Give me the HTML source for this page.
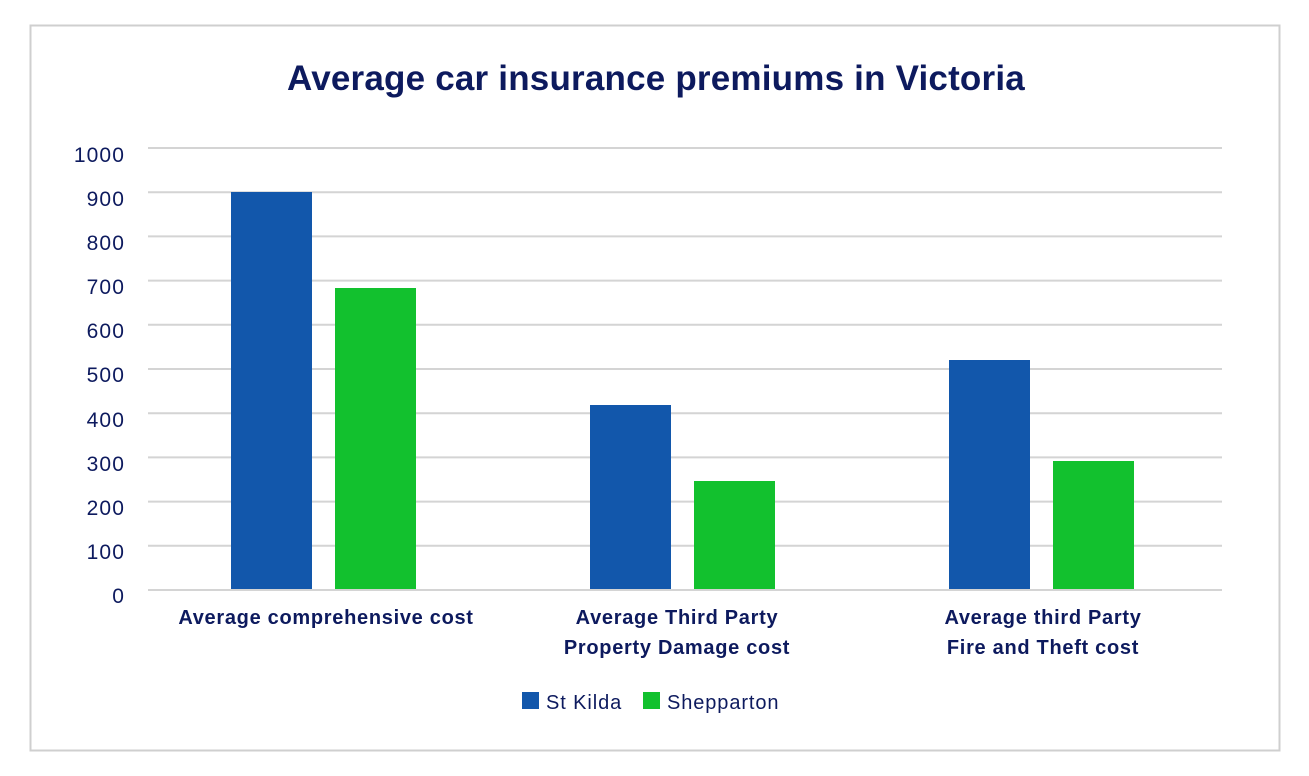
<!DOCTYPE html>
<html><head><style>
html,body{margin:0;padding:0;background:#fff;}
svg{display:block;font-family:"Liberation Sans",sans-serif;}
</style></head><body>
<svg width="1309" height="776" viewBox="0 0 1309 776">
<rect x="30.5" y="25.5" width="1249" height="725" fill="#fff" stroke="#cfcfcf" stroke-width="2"/>
<text x="656" y="90" text-anchor="middle" font-size="35" font-weight="bold" fill="#0d1a5e" letter-spacing="0.2">Average car insurance premiums in Victoria</text>
<g stroke="#d4d4d4" stroke-width="2">
<line x1="148" x2="1222" y1="148" y2="148"/>
<line x1="148" x2="1222" y1="192.2" y2="192.2"/>
<line x1="148" x2="1222" y1="236.4" y2="236.4"/>
<line x1="148" x2="1222" y1="280.6" y2="280.6"/>
<line x1="148" x2="1222" y1="324.8" y2="324.8"/>
<line x1="148" x2="1222" y1="369" y2="369"/>
<line x1="148" x2="1222" y1="413.2" y2="413.2"/>
<line x1="148" x2="1222" y1="457.4" y2="457.4"/>
<line x1="148" x2="1222" y1="501.6" y2="501.6"/>
<line x1="148" x2="1222" y1="545.8" y2="545.8"/>
<line x1="148" x2="1222" y1="590" y2="590"/>
</g>
<g font-size="21" fill="#0d1a5e" text-anchor="end" letter-spacing="1.1">
<text x="125" y="162">1000</text><text x="125" y="206">900</text><text x="125" y="250">800</text>
<text x="125" y="294">700</text><text x="125" y="338">600</text><text x="125" y="382">500</text>
<text x="125" y="427">400</text><text x="125" y="471">300</text><text x="125" y="515">200</text>
<text x="125" y="559">100</text><text x="125" y="603">0</text>
</g>
<g fill="#1257ab">
<rect x="231" y="192" width="81" height="397"/>
<rect x="590" y="405" width="81" height="184"/>
<rect x="949" y="360" width="81" height="229"/>
</g>
<g fill="#12c12e">
<rect x="335" y="288" width="81" height="301"/>
<rect x="694" y="481" width="81" height="108"/>
<rect x="1053" y="461" width="81" height="128"/>
</g>
<g font-size="20" font-weight="bold" fill="#0d1a5e" text-anchor="middle" letter-spacing="0.7">
<text x="326" y="624">Average comprehensive cost</text>
<text x="677" y="624">Average Third Party</text>
<text x="677" y="654">Property Damage cost</text>
<text x="1043" y="624">Average third Party</text>
<text x="1043" y="654">Fire and Theft cost</text>
</g>
<rect x="522" y="692" width="17" height="17" fill="#1257ab"/>
<text x="546" y="709" font-size="20" fill="#0d1a5e" letter-spacing="0.9">St Kilda</text>
<rect x="643" y="692" width="17" height="17" fill="#12c12e"/>
<text x="667" y="709" font-size="20" fill="#0d1a5e" letter-spacing="0.9">Shepparton</text>
</svg>
</body></html>
